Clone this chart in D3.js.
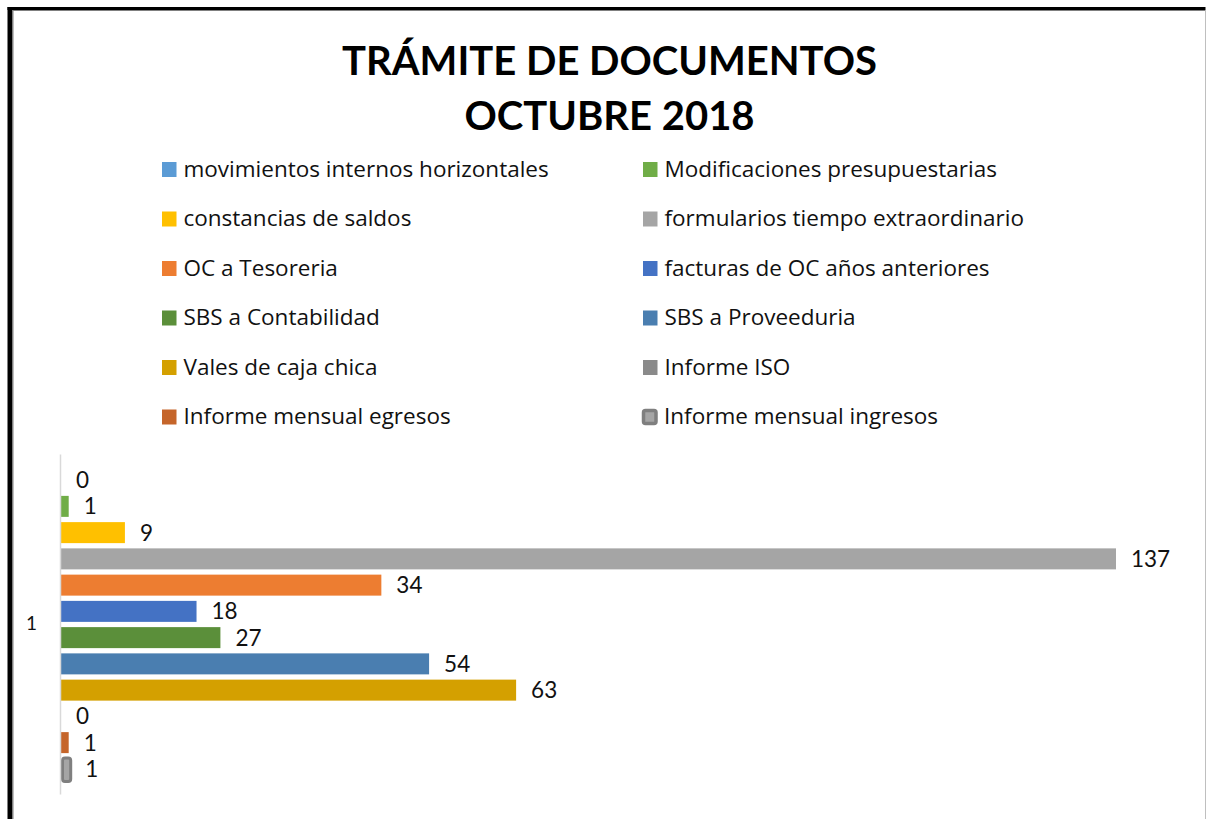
<!DOCTYPE html>
<html>
<head>
<meta charset="utf-8">
<script src="https://cdn.jsdelivr.net/npm/d3@7"></script>
<style>
  html, body { margin: 0; padding: 0; background: #fff; }
  svg { display: block; }
</style>
</head>
<body>
<svg id="chart"></svg>
<script>
const categories = ['1'];

const seriesNames = [
  'movimientos internos horizontales',
  'Modificaciones presupuestarias',
  'constancias de saldos',
  'formularios tiempo extraordinario',
  'OC a Tesoreria',
  'facturas de OC años anteriores',
  'SBS a Contabilidad',
  'SBS a Proveeduria',
  'Vales de caja chica',
  'Informe ISO',
  'Informe mensual egresos',
  'Informe mensual ingresos'
];

// bar lengths as drawn in the picture
const barValues = [0, 1, 8.3, 137, 41.6, 17.6, 20.7, 47.8, 59.1, 0, 1, 1];

// data labels as printed next to each bar
const labelValues = [0, 1, 9, 137, 34, 18, 27, 54, 63, 0, 1, 1];

const seriesColors = [
  '#5B9BD5', '#70AD47', '#FFC000', '#A5A5A5', '#ED7D31', '#4472C4',
  '#5B8F3A', '#4A7EB0', '#D4A000', '#8A8A8A', '#C5652A', '#A5A5A5'
];

const titleLines = ['TRÁMITE DE DOCUMENTOS', 'OCTUBRE 2018'];

const W = 1206, H = 819;
const FONT = 'Lato, "Open Sans", sans-serif';
const LEGEND_FONT = '"Open Sans", Lato, sans-serif';

const svg = d3.select('#chart')
  .attr('width', W)
  .attr('height', H)
  .attr('viewBox', `0 0 ${W} ${H}`);

svg.append('rect').attr('width', W).attr('height', H).attr('fill', '#fff');

// frame: heavy black on top/left, thin grey chart border inside
svg.append('rect').attr('x', 7.5).attr('y', 7).attr('width', 1198).attr('height', 3).attr('fill', '#000');
svg.append('rect').attr('x', 7.5).attr('y', 7).attr('width', 5).attr('height', H - 7).attr('fill', '#000');
svg.append('line').attr('x1', 12.5).attr('x2', 1205).attr('y1', 10.5).attr('y2', 10.5)
  .attr('stroke', '#808080').attr('stroke-width', 1);
svg.append('line').attr('x1', 13).attr('x2', 13).attr('y1', 10).attr('y2', H)
  .attr('stroke', '#808080').attr('stroke-width', 1);
svg.append('line').attr('x1', 1205.5).attr('x2', 1205.5).attr('y1', 10).attr('y2', H)
  .attr('stroke', '#bfbfbf').attr('stroke-width', 1);

// title
svg.append('g')
  .selectAll('text')
  .data(titleLines)
  .join('text')
  .attr('x', 609.5)
  .attr('y', (d, i) => 75 + i * 55)
  .attr('text-anchor', 'middle')
  .attr('font-family', FONT)
  .attr('font-weight', 700)
  .attr('font-size', '40px')
  .attr('fill', '#000')
  .text(d => d);

// legend, two columns
const legendCols = [162, 643];
const legendTop = 162;
const legendStep = 49.5;

const legend = svg.append('g')
  .selectAll('g')
  .data(seriesNames.map((name, i) => ({ name, i })))
  .join('g')
  .attr('transform', d => `translate(${legendCols[d.i % 2]},${legendTop + Math.floor(d.i / 2) * legendStep})`);

legend.each(function (d) {
  const g = d3.select(this);
  if (d.i === 11) {
    g.append('rect')
      .attr('x', 0.5).attr('y', 1).attr('width', 12.5).attr('height', 13)
      .attr('rx', 2)
      .attr('fill', seriesColors[d.i])
      .attr('stroke', '#7F7F7F')
      .attr('stroke-width', 3.5);
  } else {
    g.append('rect')
      .attr('x', 0).attr('y', 0).attr('width', 14.5).attr('height', 15)
      .attr('fill', seriesColors[d.i]);
  }
});

legend.append('text')
  .attr('x', d => d.i === 11 ? 21 : 21.5)
  .attr('y', 14.5)
  .attr('font-family', LEGEND_FONT)
  .attr('font-size', '22.5px')
  .attr('fill', '#111')
  .text(d => d.name);

// bars
const x = d3.scaleLinear()
  .domain([0, d3.max(barValues)])
  .range([61, 1116]);

const yCat = d3.scaleBand()
  .domain(categories)
  .range([454, 794]);

const ySeries = d3.scaleBand()
  .domain(seriesNames)
  .range([467, 782])
  .paddingInner(0.2)
  .paddingOuter(0.1);

const barData = seriesNames.map((name, i) => ({
  name, value: barValues[i], label: labelValues[i], color: seriesColors[i], i
}));

const plot = svg.append('g');

plot.selectAll('rect.bar')
  .data(barData.filter(d => d.value > 0 && d.i !== 11))
  .join('rect')
  .attr('class', 'bar')
  .attr('x', x(0))
  .attr('y', d => ySeries(d.name))
  .attr('width', d => x(d.value) - x(0))
  .attr('height', ySeries.bandwidth())
  .attr('fill', d => d.color);

// last series has a heavy grey outline
const last = barData[11];
plot.append('rect')
  .attr('x', x(0) + 1.5)
  .attr('y', ySeries(last.name) - 0.5)
  .attr('width', x(last.value) - x(0) + 0.5)
  .attr('height', ySeries.bandwidth() + 2.5)
  .attr('rx', 2.5)
  .attr('fill', last.color)
  .attr('stroke', '#7F7F7F')
  .attr('stroke-width', 3);

plot.selectAll('text.lbl')
  .data(barData)
  .join('text')
  .attr('class', 'lbl')
  .attr('x', d => x(d.value) + 15 + (d.i === 11 ? 1.5 : 0))
  .attr('y', d => ySeries(d.name) + ySeries.bandwidth() / 2)
  .attr('dy', '0.36em')
  .attr('font-family', FONT)
  .attr('font-size', '22.5px')
  .attr('fill', '#111')
  .text(d => d.label);

// category axis
const axis = svg.append('g')
  .attr('transform', 'translate(60,0)')
  .call(d3.axisLeft(yCat).tickSize(0).tickSizeOuter(0).tickPadding(23));

axis.select('.domain').attr('stroke', '#D9D9D9').attr('stroke-width', 1.5);
axis.selectAll('.tick text')
  .attr('font-family', FONT)
  .attr('font-size', '19px')
  .attr('fill', '#111');
</script>
</body>
</html>
